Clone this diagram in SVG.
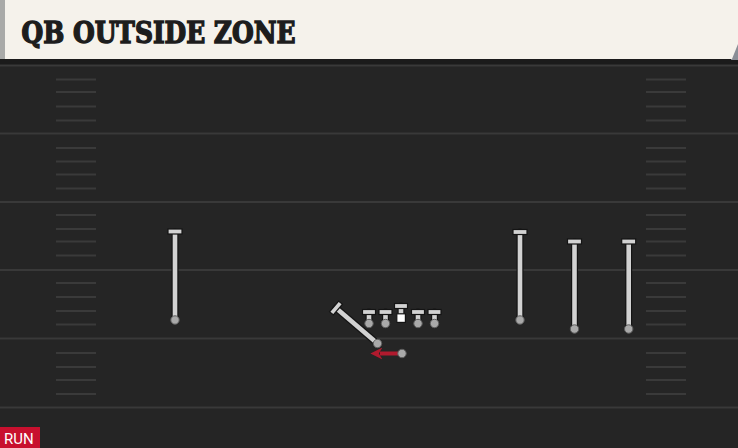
<svg xmlns="http://www.w3.org/2000/svg" width="738" height="448" viewBox="0 0 738 448">
<defs>
<style>
.yard{stroke:#393939;stroke-width:2}
.hash{stroke:#3a3a3a;stroke-width:2}
.stemo{stroke:#141414;stroke-width:7;stroke-linecap:round}
.stem{stroke:#d2d2d2;stroke-width:4.6}
.bar{fill:#d2d2d2;stroke:#141414;stroke-width:1.2}
.dot{fill:#a9a9a9;stroke:#5e5e5e;stroke-width:1}
.title{font-family:"DejaVu Serif",serif;font-weight:bold;font-size:30px;font-stretch:condensed;fill:#1d1d1d;stroke:#1d1d1d;stroke-width:1.4;stroke-linejoin:miter}
.tag{font-family:"Roboto","Liberation Sans",sans-serif;font-size:15px;fill:#ffffff}
</style>
<marker id="ah" viewBox="0 0 10 10" refX="2" refY="5" markerWidth="3" markerHeight="3" orient="auto" markerUnits="strokeWidth">
<path d="M0,0 L10,5 L0,10 L3,5 Z" fill="#b01a2e"/>
</marker>
</defs>
<rect width="738" height="448" fill="#252525"/>
<rect x="0" y="59" width="738" height="6" fill="#1b1b1b"/>
<g id="field">
<line class="yard" x1="0" y1="65.5" x2="738" y2="65.5"/>
<line class="yard" x1="0" y1="133.5" x2="738" y2="133.5"/>
<line class="yard" x1="0" y1="202" x2="738" y2="202"/>
<line class="yard" x1="0" y1="270" x2="738" y2="270"/>
<line class="yard" x1="0" y1="338.5" x2="738" y2="338.5"/>
<line class="yard" x1="0" y1="407.5" x2="738" y2="407.5"/>
<g id="hash-left">
<line class="hash" x1="56" y1="79.5" x2="96" y2="79.5"/>
<line class="hash" x1="56" y1="92" x2="96" y2="92"/>
<line class="hash" x1="56" y1="106.5" x2="96" y2="106.5"/>
<line class="hash" x1="56" y1="120.5" x2="96" y2="120.5"/>
<line class="hash" x1="56" y1="148" x2="96" y2="148"/>
<line class="hash" x1="56" y1="161.5" x2="96" y2="161.5"/>
<line class="hash" x1="56" y1="174.5" x2="96" y2="174.5"/>
<line class="hash" x1="56" y1="188.5" x2="96" y2="188.5"/>
<line class="hash" x1="56" y1="215" x2="96" y2="215"/>
<line class="hash" x1="56" y1="229" x2="96" y2="229"/>
<line class="hash" x1="56" y1="241.5" x2="96" y2="241.5"/>
<line class="hash" x1="56" y1="255.5" x2="96" y2="255.5"/>
<line class="hash" x1="56" y1="283" x2="96" y2="283"/>
<line class="hash" x1="56" y1="297" x2="96" y2="297"/>
<line class="hash" x1="56" y1="311" x2="96" y2="311"/>
<line class="hash" x1="56" y1="324.5" x2="96" y2="324.5"/>
<line class="hash" x1="56" y1="353" x2="96" y2="353"/>
<line class="hash" x1="56" y1="367" x2="96" y2="367"/>
<line class="hash" x1="56" y1="380" x2="96" y2="380"/>
<line class="hash" x1="56" y1="394" x2="96" y2="394"/>
</g>
<g id="hash-right">
<line class="hash" x1="646" y1="79.5" x2="686" y2="79.5"/>
<line class="hash" x1="646" y1="92" x2="686" y2="92"/>
<line class="hash" x1="646" y1="106.5" x2="686" y2="106.5"/>
<line class="hash" x1="646" y1="120.5" x2="686" y2="120.5"/>
<line class="hash" x1="646" y1="148" x2="686" y2="148"/>
<line class="hash" x1="646" y1="161.5" x2="686" y2="161.5"/>
<line class="hash" x1="646" y1="174.5" x2="686" y2="174.5"/>
<line class="hash" x1="646" y1="188.5" x2="686" y2="188.5"/>
<line class="hash" x1="646" y1="215" x2="686" y2="215"/>
<line class="hash" x1="646" y1="229" x2="686" y2="229"/>
<line class="hash" x1="646" y1="241.5" x2="686" y2="241.5"/>
<line class="hash" x1="646" y1="255.5" x2="686" y2="255.5"/>
<line class="hash" x1="646" y1="283" x2="686" y2="283"/>
<line class="hash" x1="646" y1="297" x2="686" y2="297"/>
<line class="hash" x1="646" y1="311" x2="686" y2="311"/>
<line class="hash" x1="646" y1="324.5" x2="686" y2="324.5"/>
<line class="hash" x1="646" y1="353" x2="686" y2="353"/>
<line class="hash" x1="646" y1="367" x2="686" y2="367"/>
<line class="hash" x1="646" y1="380" x2="686" y2="380"/>
<line class="hash" x1="646" y1="394" x2="686" y2="394"/>
</g>
</g>
<g id="header">
<polygon points="731,52 738,40 738,60 731,60" fill="#8a8e96"/>
<polygon points="0,0 738,0 738,44 732,59 0,59" fill="#f5f2eb"/>
<rect x="0" y="0" width="5" height="59" fill="#a9aaa8"/>
<text class="title" x="21.5" y="42.5" textLength="274" lengthAdjust="spacingAndGlyphs">QB OUTSIDE ZONE</text>
</g>
<g id="connectors">
<line x1="402" y1="353.5" x2="380" y2="353.5" stroke="#b01a2e" stroke-width="4" marker-end="url(#ah)"/>
</g>
<g id="wr-left">
<line class="stemo" x1="175" y1="232" x2="175" y2="320"/>
<line class="stem" x1="175" y1="232" x2="175" y2="320"/>
<rect class="bar" x="168" y="229" width="14" height="5"/>
<circle class="dot" cx="175" cy="320" r="4.2"/>
</g>
<g id="wr-right-1">
<line class="stemo" x1="520" y1="232" x2="520" y2="320"/>
<line class="stem" x1="520" y1="232" x2="520" y2="320"/>
<rect class="bar" x="513" y="229.5" width="14" height="5"/>
<circle class="dot" cx="520" cy="320" r="4.2"/>
</g>
<g id="wr-right-2">
<line class="stemo" x1="574.5" y1="242" x2="574.5" y2="329"/>
<line class="stem" x1="574.5" y1="242" x2="574.5" y2="329"/>
<rect class="bar" x="567.5" y="239" width="14" height="5"/>
<circle class="dot" cx="574.5" cy="329" r="4.2"/>
</g>
<g id="wr-right-3">
<line class="stemo" x1="628.7" y1="242" x2="628.7" y2="329"/>
<line class="stem" x1="628.7" y1="242" x2="628.7" y2="329"/>
<rect class="bar" x="621.7" y="239" width="14" height="5"/>
<circle class="dot" cx="628.7" cy="329" r="4.2"/>
</g>
<g id="lt">
<line class="stemo" x1="369" y1="312" x2="369" y2="323"/>
<line class="stem" x1="369" y1="312" x2="369" y2="323"/>
<rect class="bar" x="362.5" y="309.5" width="13" height="5"/>
<circle class="dot" cx="369" cy="323.5" r="4.2"/>
</g>
<g id="lg">
<line class="stemo" x1="385.5" y1="312" x2="385.5" y2="323"/>
<line class="stem" x1="385.5" y1="312" x2="385.5" y2="323"/>
<rect class="bar" x="379" y="309.5" width="13" height="5"/>
<circle class="dot" cx="385.5" cy="323.5" r="4.2"/>
</g>
<g id="center">
<line class="stemo" x1="401" y1="306" x2="401" y2="316"/>
<line class="stem" x1="401" y1="306" x2="401" y2="316"/>
<rect class="bar" x="394.5" y="303.5" width="13" height="5"/>
<rect x="396.8" y="313.8" width="8.6" height="8.6" fill="#ffffff" stroke="#141414" stroke-width="1.2"/>
</g>
<g id="rg">
<line class="stemo" x1="418" y1="312" x2="418" y2="323"/>
<line class="stem" x1="418" y1="312" x2="418" y2="323"/>
<rect class="bar" x="411.5" y="309.5" width="13" height="5"/>
<circle class="dot" cx="418" cy="323.5" r="4.2"/>
</g>
<g id="rt">
<line class="stemo" x1="434.5" y1="312" x2="434.5" y2="323"/>
<line class="stem" x1="434.5" y1="312" x2="434.5" y2="323"/>
<rect class="bar" x="428" y="309.5" width="13" height="5"/>
<circle class="dot" cx="434.5" cy="323.5" r="4.2"/>
</g>
<g id="back">
<line class="stemo" x1="336" y1="308" x2="377.5" y2="343.5"/>
<line class="stem" x1="336" y1="308" x2="377.5" y2="343.5"/>
<rect class="bar" x="329" y="305.5" width="14" height="5" transform="rotate(-49.5 336 308)"/>
<circle class="dot" cx="377.5" cy="343.5" r="4.2"/>
</g>
<g id="qb">
<circle class="dot" cx="402" cy="353.5" r="4.2"/>
</g>
<g id="tag">
<rect x="0" y="427" width="40" height="21" fill="#c8102e"/>
<text class="tag" x="4" y="444">RUN</text>
</g>
</svg>
